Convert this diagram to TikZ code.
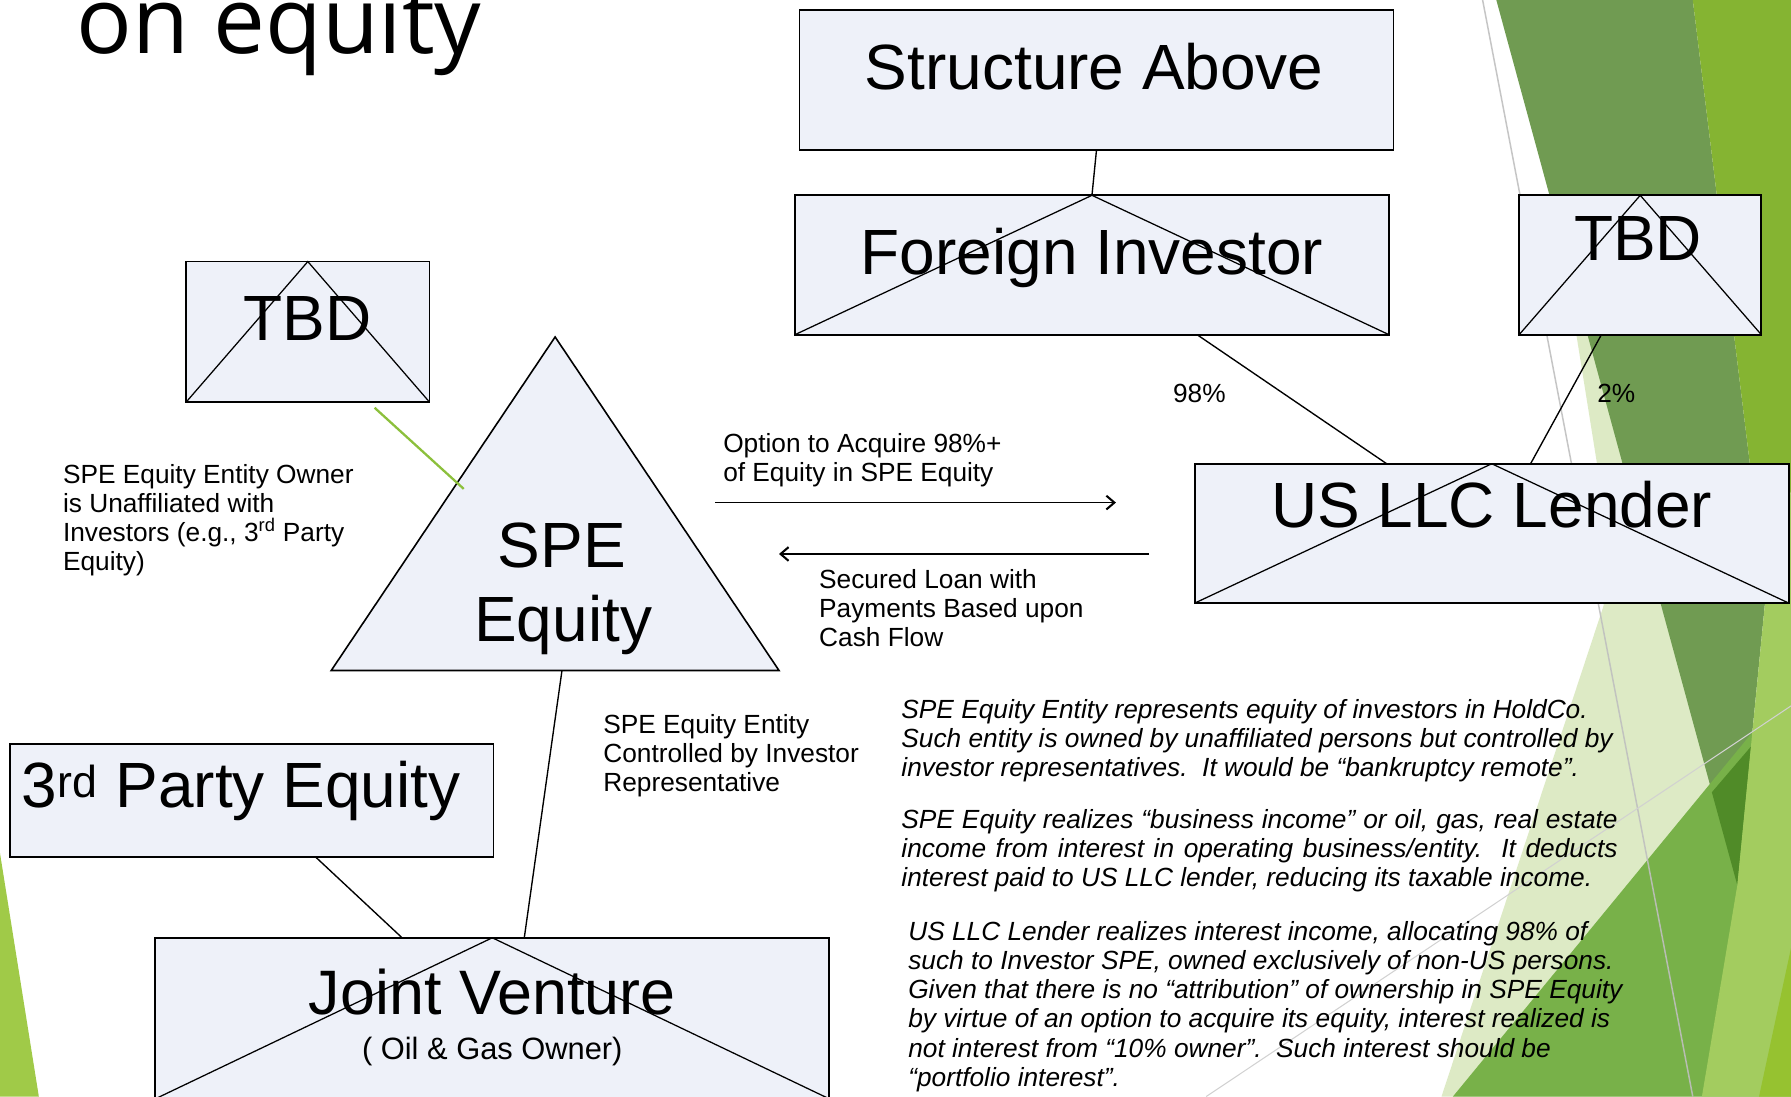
\documentclass[tikz,border=0pt]{standalone}
\usepackage{fontspec}
\setmainfont{Liberation Sans}
\newfontfamily\titlefont{Open Sans}
\usetikzlibrary{arrows.meta,calc}
\definecolor{boxfill}{RGB}{238,241,249}
\definecolor{gpale}{RGB}{221,234,197}
\definecolor{gdark}{RGB}{112,155,82}
\definecolor{golive}{RGB}{133,180,50}
\definecolor{glime}{RGB}{163,204,95}
\definecolor{gmed}{RGB}{120,177,73}
\definecolor{gover}{RGB}{80,139,40}
\definecolor{gcorner}{RGB}{150,194,48}
\definecolor{gleft}{RGB}{160,202,72}
\definecolor{gline}{RGB}{140,192,60}
\begin{document}
\begin{tikzpicture}[x=1pt,y=-1pt,
  box/.style={draw=black, line width=1.6pt, fill=boxfill, rectangle, inner sep=0pt, outer sep=0pt, anchor=north west},
  cross/.style={line width=1.1pt},
  conn/.style={line width=1.2pt},
  arr/.style={line width=1.5pt, -{Straight Barb[length=7pt,width=12pt,line width=1.8pt]}},
  big/.style={inner sep=0pt, anchor=base, font=\fontsize{56}{60}\selectfont},
  lbl/.style={inner sep=0pt, anchor=base west, font=\fontsize{23}{25.6}\selectfont},
  ital/.style={inner sep=0pt, anchor=base west, font=\fontsize{23}{25.6}\selectfont\itshape},
]
\useasboundingbox (0,0) rectangle (1568,960);
\clip (0,0) rectangle (1568,960);
\fill[white] (0,0) rectangle (1568,960);
% background facets
\fill[gleft] (0,747) -- (34,960) -- (0,960) -- cycle;
\fill[gpale] (1362,180) -- (1450,180) -- (1521,775) -- (1490,960) -- (1262,960) -- (1404,530) -- (1402,460) -- (1398,405) -- cycle;
\fill[gdark] (1310,0) -- (1482,0) -- (1546,520) -- (1521,775) -- cycle;
\fill[golive] (1482,0) -- (1568,0) -- (1568,430) -- (1546,520) -- cycle;
\fill[gmed] (1272,960) -- (1568,600) -- (1568,960) -- cycle;
\fill[gover] (1498.7,693.6) -- (1533,653.5) -- (1521,775) -- cycle;
\fill[glime] (1521,775) -- (1546,520) -- (1568,430) -- (1568,960) -- (1490,960) -- cycle;
\fill[gcorner] (1568,830) -- (1568,960) -- (1540,960) -- cycle;
\draw[line width=1.3pt, black!25, opacity=0.9] (1298,0) -- (1482,960);
\draw[line width=0.9pt, black!18] (1056,960) -- (1568,618);

% title
\node[anchor=base west, inner sep=0pt, font=\titlefont\fontsize{81}{84}\selectfont] (title) at (67,47) {on equity};

% boxes
\node[box, minimum width=520pt, minimum height=122pt] (sa) at (700,9) {};
\node[box, minimum width=520pt, minimum height=122pt] (fi) at (696,171) {};
\node[box, minimum width=212pt, minimum height=122pt] (tbdr) at (1330,171) {};
\node[box, minimum width=213pt, minimum height=123pt] (tbdl) at (163,229) {};
\node[box, minimum width=520pt, minimum height=122pt] (ll) at (1046,406) {};
\node[box, minimum width=423pt, minimum height=99pt] (tp) at (9,651) {};
\node[box, minimum width=590pt, minimum height=141pt] (jv) at (136,821) {};

\foreach \n in {fi,tbdr,tbdl,ll,jv}
  \draw[cross] (\n.south west) -- (\n.north) -- (\n.south east);

% SPE triangle
\coordinate (tA) at (486,295);
\coordinate (tL) at (290,587);
\coordinate (tR) at (682,587);
\coordinate (tB) at (492,587);
\draw[line width=1.4pt, fill=boxfill] (tA) -- (tR) -- (tL) -- cycle;

% connectors
\draw[conn] (sa.south) -- (fi.north);
\draw[conn] ($(fi.south)+(92,0)$) -- ($(ll.north)+(-92,0)$);
\draw[conn] ($(tbdr.south)+(-34,0)$) -- ($(ll.north)+(34,0)$);
\draw[conn] ($(tp.south)+(55.5,0)$) -- ($(jv.north)+(-79,0)$);
\draw[conn] (tB) -- ($(jv.north)+(28,0)$);
\coordinate (g1) at (328,357);
\coordinate (g2) at (406,428);
\draw[line width=2pt, gline] (g1) -- (g2);

% arrows
\coordinate (o1) at (626,440);
\coordinate (o2) at (977,440);
\coordinate (s1) at (1006,485);
\coordinate (s2) at (682,485);
\draw[arr] (o1) -- (o2);
\draw[arr] (s1) -- (s2);

% box texts
\node[big] (tsa) at (958,78) {Structure Above};
\node[big] (tfi) at (956,240) {Foreign Investor};
\node[big] (ttbdr) at (1434,228) {TBD};
\node[big] (ttbdl) at (269,298) {TBD};
\node[big] (tspe1) at (492,497) {SPE};
\node[big] (tspe2) at (493,562) {Equity};
\node[big] (tll) at (1306,462) {US LLC Lender};
\node[big, anchor=base west] (ttp) at (19,707) {3\textsuperscript{rd} Party Equity};
\node[big, font=\fontsize{55}{58}\selectfont] (tjv) at (431,888) {Joint Venture};
\node[inner sep=0pt, anchor=base, font=\fontsize{27}{30}\selectfont] (tjv2) at (431,928) {( Oil \& Gas Owner)};

% labels
\node[lbl, anchor=base] (p98) at (1050,352) {98\%};
\node[lbl, anchor=base] (p2) at (1415,352) {2\%};
\node[lbl] (own) at (55,423) {\vtop{\hbox{SPE Equity Entity Owner}\hbox{is Unaffiliated with}\hbox{Investors (e.g., 3\textsuperscript{rd} Party}\hbox{Equity)}}};
\node[lbl] (opt) at (633,396) {\vtop{\hbox{Option to Acquire 98\%+}\hbox{of Equity in SPE Equity}}};
\node[lbl] (sec) at (717,515) {\vtop{\hbox{Secured Loan with}\hbox{Payments Based upon}\hbox{Cash Flow}}};
\node[lbl] (ctl) at (528,642) {\vtop{\hbox{SPE Equity Entity}\hbox{Controlled by Investor}\hbox{Representative}}};

% italic paragraphs
\node[ital] (para1) at (789,629) {\vtop{\hbox{SPE Equity Entity represents equity of investors in HoldCo.}\hbox{Such entity is owned by unaffiliated persons but controlled by}\hbox{investor representatives.\ \ It would be “bankruptcy remote”.}}};
\node[ital] (para2) at (789,725) {\vtop{\hbox{\makebox[627pt][s]{SPE Equity realizes “business income” or oil, gas, real estate}}\hbox{\makebox[627pt][s]{income from interest in operating business/entity.\ \ It deducts}}\hbox{interest paid to US LLC lender, reducing its taxable income.}}};
\node[ital] (para3) at (795,823) {\vtop{\hbox{US LLC Lender realizes interest income, allocating 98\% of}\hbox{such to Investor SPE, owned exclusively of non-US persons.}\hbox{Given that there is no “attribution” of ownership in SPE Equity}\hbox{by virtue of an option to acquire its equity, interest realized is}\hbox{not interest from “10\% owner”.\ \ Such interest should be}\hbox{“portfolio interest”.}}};
\end{tikzpicture}
\end{document}
